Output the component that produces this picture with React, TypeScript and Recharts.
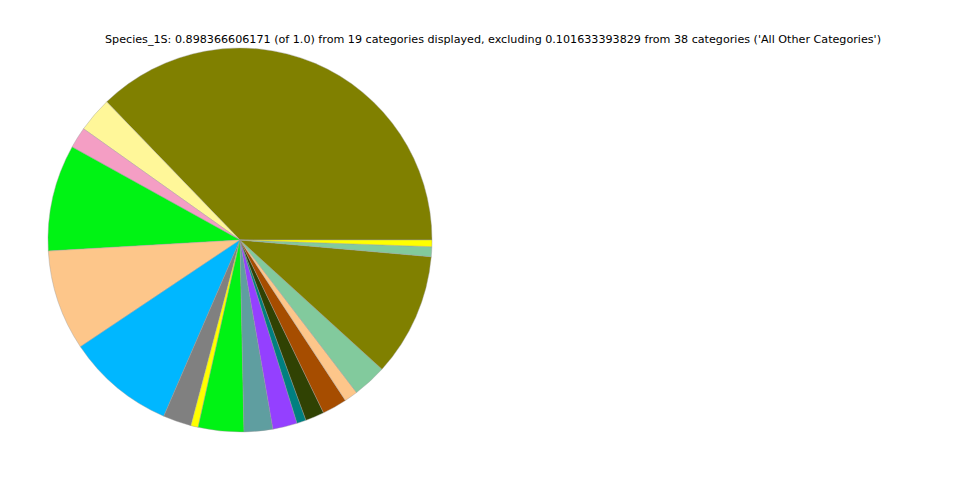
import React from 'react';
import { PieChart, Pie, Cell } from 'recharts';

const categories = [
  'Category 1', 'Category 2', 'Category 3', 'Category 4', 'Category 5',
  'Category 6', 'Category 7', 'Category 8', 'Category 9', 'Category 10',
  'Category 11', 'Category 12', 'Category 13', 'Category 14', 'Category 15',
  'Category 16', 'Category 17', 'Category 18', 'Category 19',
];

const values = [
  0.3344, 0.02645, 0.01597, 0.0806, 0.0761,
  0.0819, 0.02146, 0.00549, 0.03444, 0.02171,
  0.01847, 0.00699, 0.01422, 0.01872, 0.01023,
  0.0257, 0.0931, 0.00749, 0.00499,
];

const colors = [
  '#808000', '#fff799', '#f49ec4', '#00f314', '#fdc68a',
  '#00b7ff', '#808080', '#ffff00', '#00f314', '#5f9ea0',
  '#9440ff', '#008080', '#304203', '#a64d00', '#fdc68a',
  '#82ca9d', '#808000', '#82ca9d', '#ffff00',
];

const title =
  "Species_1S: 0.898366606171 (of 1.0) from 19 categories displayed, excluding 0.101633393829 from 38 categories ('All Other Categories')";

const data = categories.map((name, i) => ({ name, value: values[i] }));

export default function App() {
  return (
    <div style={{ position: 'absolute', left: 0, top: 0, width: 960, height: 480, background: '#fff' }}>
      <div
        style={{
          position: 'absolute',
          left: 0,
          width: 986,
          top: 33,
          textAlign: 'center',
          fontFamily: 'DejaVu Sans',
          fontSize: 11.15,
          color: '#000',
          whiteSpace: 'nowrap',
        }}
      >
        {title}
      </div>
      <PieChart width={960} height={480} margin={{ top: 0, right: 0, bottom: 0, left: 0 }}>
        <Pie
          data={data}
          dataKey="value"
          nameKey="name"
          cx={240}
          cy={240}
          outerRadius={192}
          startAngle={0}
          endAngle={360}
          stroke="#999"
          strokeWidth={0.4}
          isAnimationActive={false}
        >
          {data.map((entry, index) => (
            <Cell key={`cell-${index}`} fill={colors[index]} />
          ))}
        </Pie>
      </PieChart>
    </div>
  );
}
